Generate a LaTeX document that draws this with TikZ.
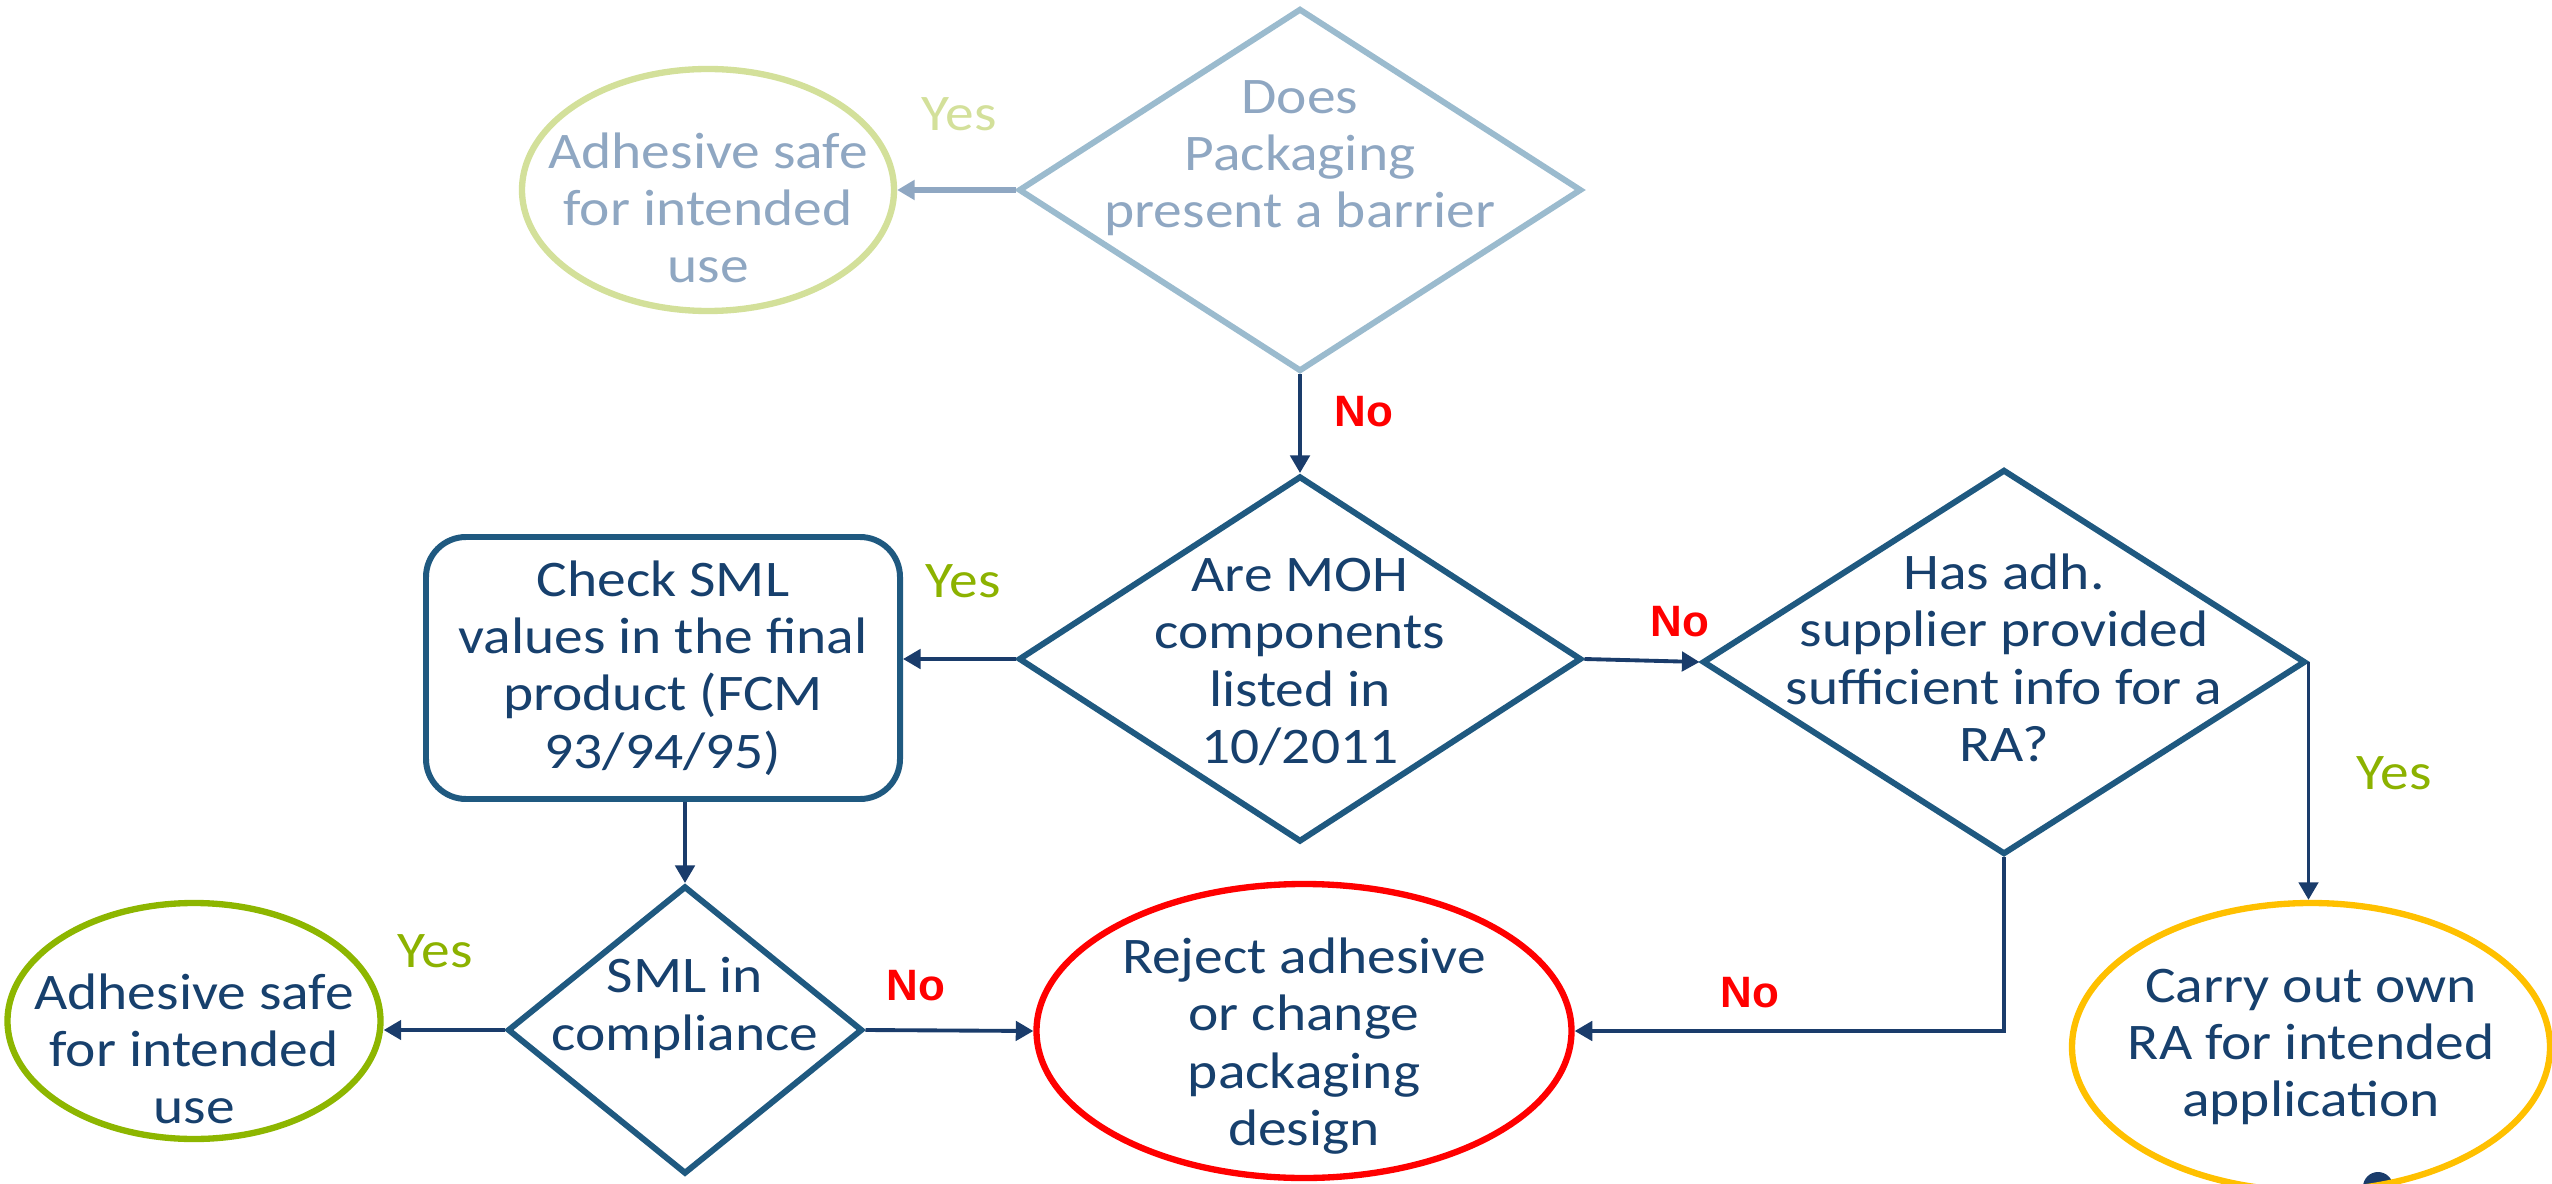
\documentclass[tikz,border=0pt]{standalone}
\usepackage{fontspec}
\setmainfont{Carlito}[FakeStretch=1.12]
\newfontfamily\nofont{Liberation Sans}
\usepackage{tikz}
\usetikzlibrary{positioning,
                arrows.meta,                % arrow tips
                shapes.geometric}           % diamond, ellipse

\definecolor{boxline}{RGB}{31,89,128}
\definecolor{darktext}{RGB}{23,64,109}
\definecolor{arrowcol}{RGB}{26,60,107}
\definecolor{paleline}{RGB}{155,187,206}
\definecolor{paletext}{RGB}{143,167,194}
\definecolor{paleyes}{RGB}{211,224,154}
\definecolor{yesgreen}{RGB}{140,178,0}
\definecolor{safegreen}{RGB}{141,182,0}
\definecolor{ownorange}{RGB}{255,192,0}

\tikzset{
  decision/.style={diamond, draw=boxline, line width=1.7pt, inner sep=0pt},
  endpoint/.style={ellipse, line width=1.8pt, inner sep=0pt},
  lbl/.style={align=center, text=darktext, inner sep=0pt,
              font=\fontsize{14.6}{16.3}\selectfont},
  flow/.style={draw=arrowcol, line width=1.1pt, -{Triangle[length=5pt,width=5.5pt]}},
  yes/.style={text=yesgreen, font=\fontsize{14.6}{16}\selectfont},
  no/.style={text=red, font=\nofont\bfseries\fontsize{12.5}{15}\selectfont}
}

\begin{document}
\begin{tikzpicture}
    \useasboundingbox (0,0) rectangle (25.52,-11.84);

    % shapes
    \node[decision, draw=paleline, minimum width=5.63cm, minimum height=3.63cm] (barrier) at (13.00,-1.90) {};
    \node[endpoint, draw=paleyes, minimum width=3.72cm, minimum height=2.42cm] (safetop) at (7.08,-1.90) {};
    \node[decision, minimum width=5.63cm, minimum height=3.66cm] (moh) at (13.00,-6.59) {};
    \node[draw=boxline, line width=1.7pt, rounded corners=0.4cm, minimum width=4.74cm, minimum height=2.62cm] (sml) at (6.63,-6.68) {};
    \node[decision, minimum width=6.03cm, minimum height=3.85cm] (supplier) at (20.04,-6.62) {};
    \node[decision, minimum width=3.55cm, minimum height=2.88cm] (comply) at (6.85,-10.30) {};
    \node[endpoint, draw=safegreen, minimum width=3.73cm, minimum height=2.36cm] (safebot) at (1.94,-10.21) {};
    \node[endpoint, draw=red, minimum width=5.35cm, minimum height=2.94cm] (reject) at (13.04,-10.31) {};
    \fill[arrowcol] (23.78,-11.87) circle (0.15);
    \node[endpoint, draw=ownorange, minimum width=4.78cm, minimum height=2.88cm] (own) at (23.11,-10.47) {};

    % texts
    \node[lbl, text=paletext] (barriertxt) at ([yshift=0.32cm]barrier.center) {Does\\Packaging\\present a barrier};
    \node[lbl, text=paletext] (safetoptxt) at ([yshift=-0.18cm]safetop.center) {Adhesive safe\\for intended\\use};
    \node[lbl] (mohtxt) at ([yshift=-0.03cm]moh.center) {Are MOH\\components\\listed in\\10/2011};
    \node[lbl] (smltxt) at (sml.center) {Check SML\\values in the final\\product (FCM\\93/94/95)};
    \node[lbl] (suppliertxt) at ([yshift=0.04cm]supplier.center) {Has adh.\\supplier provided\\sufficient info for a\\RA?};
    \node[lbl] (complytxt) at ([yshift=0.22cm]comply.center) {SML in\\compliance};
    \node[lbl] (safebottxt) at ([yshift=-0.28cm]safebot.center) {Adhesive safe\\for intended\\use};
    \node[lbl] (rejecttxt) at ([yshift=-0.15cm]reject.center) {Reject adhesive\\or change\\packaging\\design};
    \node[lbl] (owntxt) at (own.center) {Carry out own\\RA for intended\\application};

    % connectors
    \draw[flow, draw=paletext, line width=1.6pt] (barrier.west) -- (safetop.east);
    \draw[flow] (barrier.south) -- (moh.north);
    \draw[flow] (moh.west) -- (moh.west -| sml.east);
    \draw[flow] (sml.south -| comply.north) -- (comply.north);
    \draw[flow] (comply.west) -- (comply.west -| safebot.east);
    \draw[flow] (comply.east) -- (reject.west);
    \draw[flow] (moh.east) -- (supplier.west);
    \draw[flow] (supplier.east) -- (supplier.east |- own.north);
    \draw[flow] (supplier.south) |- (reject.east);

    % answers
    \node[yes, text=paleyes] (yes1) at (9.59,-1.14) {Yes};
    \node[no] (no1) at (13.64,-4.12) {No};
    \node[yes] (yes2) at (9.63,-5.81) {Yes};
    \node[no] (no2) at (16.80,-6.22) {No};
    \node[yes] (yes3) at (23.94,-7.73) {Yes};
    \node[yes] (yes4) at (4.35,-9.51) {Yes};
    \node[no] (no3) at (9.16,-9.86) {No};
    \node[no] (no4) at (17.50,-9.93) {No};
\end{tikzpicture}
\end{document}
